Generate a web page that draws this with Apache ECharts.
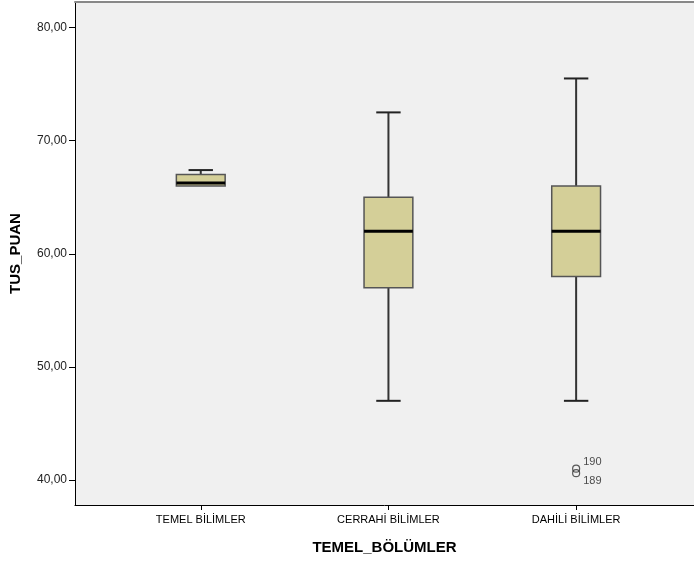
<!DOCTYPE html>
<html><head><meta charset="utf-8">
<script src="https://cdn.jsdelivr.net/npm/echarts@6/dist/echarts.min.js"></script>
<style>html,body{margin:0;padding:0;background:#fff}#c{width:694px;height:562px}</style>
</head><body><div id="c"></div>
<script>
const categories = ['TEMEL BİLİMLER', 'CERRAHİ BİLİMLER', 'DAHİLİ BİLİMLER'];
// [min, Q1, median, Q3, max]
const boxValues = [
  [66.0, 66.0, 66.25, 67.0, 67.4],
  [47.0, 57.0, 62.0, 65.0, 72.5],
  [47.0, 58.0, 62.0, 66.0, 75.5]
];
const outlierCategory = [2, 2];
const outlierValues = [41.0, 40.6];
const outlierIds = ['190', '189'];
const yTicks = [40, 50, 60, 70, 80];

const chart = echarts.init(document.getElementById('c'), null, {renderer: 'canvas'});
const font = 'Liberation Sans, Arial, sans-serif';

const boxData = boxValues.map((v, i) => [i].concat(v));
const outData = outlierValues.map((v, i) => ({
  value: [outlierCategory[i], v],
  label: {offset: i === 0 ? [-2, -7] : [-2, 8]}
}));

chart.setOption({
  animation: false,
  grid: {left: 74, right: 0, top: 2, bottom: 57, show: true, backgroundColor: '#f0f0f0', borderWidth: 0},
  xAxis: [{
    type: 'value', min: -0.670, max: 2.628,
    name: 'TEMEL_BÖLÜMLER', nameLocation: 'middle', nameGap: 35,
    nameTextStyle: {fontFamily: font, fontSize: 15, fontWeight: 'bold', color: '#000'},
    splitLine: {show: false},
    axisLine: {show: true, onZero: false, lineStyle: {color: '#000', width: 1}},
    axisTick: {show: true, length: 5, lineStyle: {color: '#000'}, customValues: [0, 1, 2]},
    axisLabel: {customValues: [0, 1, 2], formatter: v => categories[Math.round(v)] || '', fontFamily: font, fontSize: 11, color: '#000', margin: 9}
  }, {
    type: 'value', position: 'top', min: -0.670, max: 2.628,
    splitLine: {show: false}, axisTick: {show: false}, axisLabel: {show: false},
    axisLine: {show: true, onZero: false, lineStyle: {color: '#888', width: 2}}
  }],
  yAxis: {
    type: 'value', min: 37.79, max: 82.26,
    name: 'TUS_PUAN', nameLocation: 'middle', nameGap: 52, nameRotate: 90,
    nameTextStyle: {fontFamily: font, fontSize: 15, fontWeight: 'bold', color: '#000'},
    splitLine: {show: false},
    axisLine: {show: true, onZero: false, lineStyle: {color: '#000', width: 1}},
    axisTick: {show: true, length: 6, lineStyle: {color: '#000'}, customValues: yTicks},
    axisLabel: {customValues: yTicks, formatter: v => v.toFixed(2).replace('.', ','), fontFamily: font, fontSize: 12, color: '#222', margin: 8}
  },
  series: [
    {
      type: 'custom',
      data: boxData,
      renderItem: function (params, api) {
        const x = api.value(0);
        const pMin = api.coord([x, api.value(1)]);
        const pQ1 = api.coord([x, api.value(2)]);
        const pMed = api.coord([x, api.value(3)]);
        const pQ3 = api.coord([x, api.value(4)]);
        const pMax = api.coord([x, api.value(5)]);
        const bw = api.size([0.26, 0])[0];
        const cw = bw / 2;
        const cx = pMed[0];
        const children = [];
        const wStyle = {stroke: '#333', lineWidth: 2};
        if (pMax[1] < pQ3[1] - 0.5) {
          children.push({type: 'line', shape: {x1: cx, y1: pQ3[1], x2: cx, y2: pMax[1]}, style: wStyle});
          children.push({type: 'line', shape: {x1: cx - cw / 2, y1: pMax[1], x2: cx + cw / 2, y2: pMax[1]}, style: {stroke: '#222', lineWidth: 2}});
        }
        if (pMin[1] > pQ1[1] + 0.5) {
          children.push({type: 'line', shape: {x1: cx, y1: pQ1[1], x2: cx, y2: pMin[1]}, style: wStyle});
          children.push({type: 'line', shape: {x1: cx - cw / 2, y1: pMin[1], x2: cx + cw / 2, y2: pMin[1]}, style: {stroke: '#222', lineWidth: 2}});
        }
        children.push({type: 'rect', shape: {x: cx - bw / 2, y: pQ3[1], width: bw, height: pQ1[1] - pQ3[1]}, style: {fill: '#d4cf98', stroke: '#555', lineWidth: 1.5}});
        children.push({type: 'line', shape: {x1: cx - bw / 2, y1: pMed[1], x2: cx + bw / 2, y2: pMed[1]}, style: {stroke: '#000', lineWidth: 3}});
        return {type: 'group', children: children};
      },
      z: 2
    },
    {
      type: 'scatter',
      data: outData,
      symbol: 'circle', symbolSize: 7,
      itemStyle: {color: 'transparent', borderColor: '#333', borderWidth: 1.2},
      label: {show: true, position: 'right', formatter: p => outlierIds[p.dataIndex], fontFamily: font, fontSize: 11, color: '#222'},
      z: 3
    }
  ]
});
</script></body></html>
